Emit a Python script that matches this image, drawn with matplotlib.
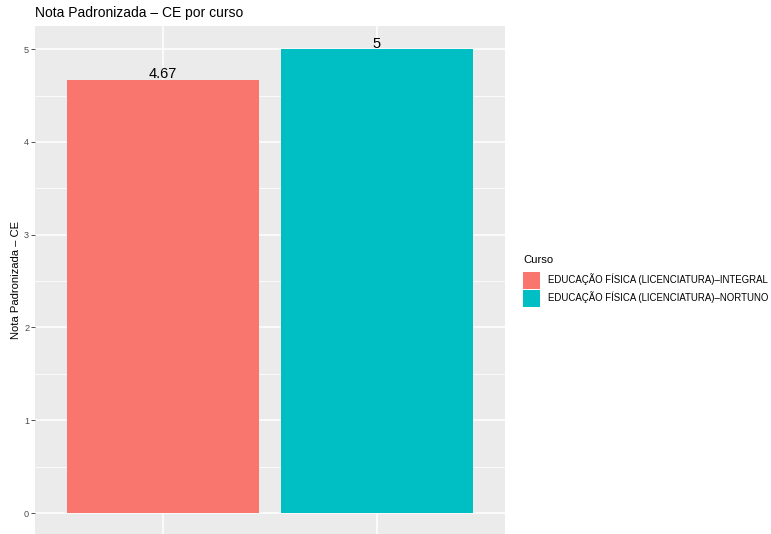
import matplotlib
matplotlib.use("Agg")
import matplotlib.pyplot as plt
from matplotlib.patches import Patch

plt.rcParams['font.family'] = ['Liberation Sans', 'DejaVu Sans']

# data
cursos = ["EDUCAÇÃO FÍSICA (LICENCIATURA)–INTEGRAL", "EDUCAÇÃO FÍSICA (LICENCIATURA)–NORTUNO"]
notas = [4.67, 5.0]
rotulos = ["4.67", "5"]
cores = ["#F8766D", "#00BFC4"]
y_ticks = [0, 1, 2, 3, 4, 5]

W, H = 771, 534
fig = plt.figure(figsize=(W / 100, H / 100), dpi=100)
fig.patch.set_facecolor("white")

# panel in pixel coords
px0, px1, py_top, py_bot = 35, 505, 26, 534
ax = fig.add_axes([px0 / W, 1 - py_bot / H, (px1 - px0) / W, (py_bot - py_top) / H])
ax.set_facecolor("#EBEBEB")

x = [1, 2]
ax.bar(x, notas, width=0.9, color=cores, zorder=3)
for xi, v, lab in zip(x, notas, rotulos):
    ax.annotate(lab, (xi, v), xytext=(0, -1), textcoords="offset points",
                ha="center", va="bottom", fontsize=10.5, color="black", zorder=4)

ax.set_xlim(0.4, 2.6)
ax.set_ylim(-0.226, 5.25)
ax.set_yticks(y_ticks)
ax.set_yticks([0.5, 1.5, 2.5, 3.5, 4.5], minor=True)
ax.set_xticks(x)
ax.set_xticklabels([])
ax.grid(True, which="major", color="white", linewidth=1.1, zorder=0)
ax.grid(True, which="minor", axis="y", color="white", linewidth=0.55, zorder=0)
ax.tick_params(axis="y", which="major", length=2.7, width=0.6, color="#333333",
               labelsize=6.6, labelcolor="#4D4D4D", pad=1.5)
ax.tick_params(axis="y", which="minor", length=0)
ax.tick_params(axis="x", length=0)
for s in ax.spines.values():
    s.set_visible(False)

ax.set_ylabel("Nota Padronizada – CE", fontsize=8.1, color="black", labelpad=2.5)
fig.text(px0 / W, 1 - 13 / H, "Nota Padronizada – CE por curso", fontsize=10,
         ha="left", va="center", color="black")

handles = [Patch(facecolor=c, edgecolor="none") for c in cores]
leg = fig.legend(handles, cursos, title="Curso", loc="upper left",
                 bbox_to_anchor=(523 / W, 1 - 255 / H), frameon=False, borderpad=0,
                 fontsize=6.9, title_fontsize=8.1, handlelength=1.77, handleheight=2.35,
                 handletextpad=0.8, labelspacing=0.1, borderaxespad=0)
leg._legend_box.align = "left"
leg._legend_box.sep = 5  # gap between title and keys

fig.savefig("out.png", dpi=100)
